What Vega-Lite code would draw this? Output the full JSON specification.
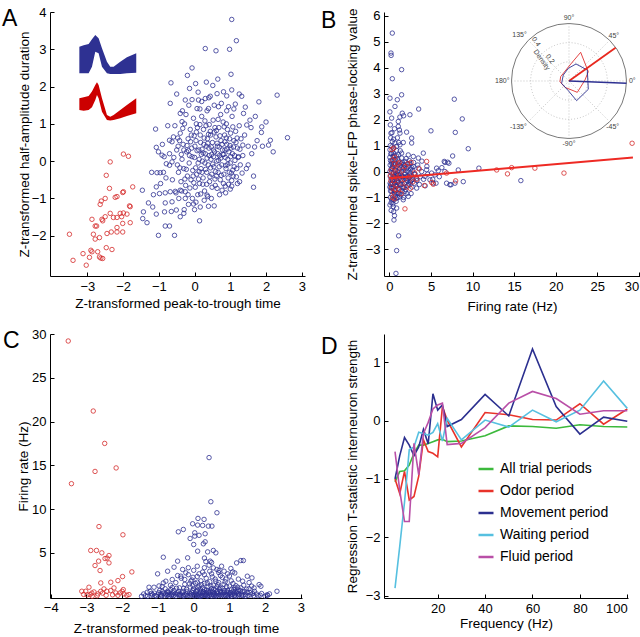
{
"$schema":"https://vega.github.io/schema/vega-lite/v6.json",
"padding":{"left":2,"top":6,"right":0,"bottom":0},
"config":{"font":"Liberation Sans","view":{"stroke":null},
"axis":{"grid":false,"domainColor":"#000","tickColor":"#000","tickSize":-4,"labelPadding":8,"labelFontSize":13,"labelColor":"#000","titleFontSize":13.5,"titleFontWeight":"normal","titleColor":"#000","labelOverlap":false,"labelFlush":false},
"title":{"fontSize":23,"fontWeight":"normal","anchor":"start","frame":"group","offset":-25,"color":"#000"}},
"resolve":{"scale":{"color":"independent"},"legend":{"color":"independent"}},
"datasets":{
"waveB":[{"x":-3.223,"y":3.071,"y2":2.356},{"x":-3.102,"y":3.107,"y2":2.356},{"x":-2.963,"y":3.143,"y2":2.356},{"x":-2.870,"y":3.268,"y2":2.535},{"x":-2.777,"y":3.384,"y2":2.937},{"x":-2.684,"y":3.295,"y2":2.892},{"x":-2.590,"y":3.026,"y2":2.535},{"x":-2.451,"y":2.669,"y2":2.356},{"x":-2.358,"y":2.535,"y2":2.338},{"x":-2.264,"y":2.535,"y2":2.338},{"x":-2.078,"y":2.669,"y2":2.338},{"x":-1.892,"y":2.785,"y2":2.356},{"x":-1.631,"y":2.892,"y2":2.374}],
"waveR":[{"x":-3.223,"y":1.686,"y2":1.373},{"x":-3.102,"y":1.713,"y2":1.355},{"x":-2.963,"y":1.748,"y2":1.373},{"x":-2.870,"y":1.865,"y2":1.445},{"x":-2.777,"y":2.043,"y2":1.641},{"x":-2.730,"y":2.115,"y2":1.775},{"x":-2.684,"y":2.043,"y2":1.686},{"x":-2.590,"y":1.686,"y2":1.328},{"x":-2.451,"y":1.239,"y2":1.105},{"x":-2.358,"y":1.194,"y2":1.087},{"x":-2.264,"y":1.239,"y2":1.105},{"x":-2.078,"y":1.373,"y2":1.150},{"x":-1.892,"y":1.507,"y2":1.212},{"x":-1.631,"y":1.686,"y2":1.284}],
"aRed":[{"x":-3.5,"y":-1.96},{"x":-3.4,"y":-2.66},{"x":-3.03,"y":-2.79},{"x":-3.12,"y":-2.48},{"x":-2.94,"y":-2.58},{"x":-2.9,"y":-2.39},{"x":-2.87,"y":-2.43},{"x":-2.71,"y":-2.43},{"x":-2.66,"y":-2.57},{"x":-2.62,"y":-2.6},{"x":-2.57,"y":-2.61},{"x":-2.47,"y":-2.32},{"x":-2.31,"y":-2.37},{"x":-2.83,"y":-1.96},{"x":-2.78,"y":-2.09},{"x":-2.66,"y":-2.05},{"x":-2.78,"y":-1.74},{"x":-2.74,"y":-1.74},{"x":-2.87,"y":-1.56},{"x":-2.59,"y":-1.56},{"x":-2.45,"y":-1.94},{"x":-2.33,"y":-1.9},{"x":-2.17,"y":-1.9},{"x":-2.01,"y":-1.9},{"x":-2.01,"y":-1.67},{"x":-1.8,"y":-1.65},{"x":-2.17,"y":-1.78},{"x":-2.27,"y":-1.51},{"x":-2.17,"y":-1.51},{"x":-2.04,"y":-1.49},{"x":-2.08,"y":-1.4},{"x":-1.99,"y":-1.39},{"x":-1.89,"y":-1.42},{"x":-2.36,"y":-1.4},{"x":-2.5,"y":-1.49},{"x":-2.57,"y":-1.6},{"x":-1.82,"y":-1.2},{"x":-1.99,"y":-0.82},{"x":-2.01,"y":-0.84},{"x":-2.22,"y":-0.97},{"x":-2.5,"y":-1.0},{"x":-2.61,"y":-1.07},{"x":-2.64,"y":-1.16},{"x":-2.38,"y":-0.73},{"x":-2.17,"y":-0.95},{"x":-1.73,"y":-0.69},{"x":-2.47,"y":-0.38},{"x":-2.36,"y":-0.02},{"x":-1.99,"y":0.19},{"x":-1.85,"y":0.13},{"x":-1.8,"y":-1.22}],
"aBlue":[{"x":1.04,"y":3.8},{"x":1.17,"y":3.23},{"x":0.3,"y":3.02},{"x":0.6,"y":2.96},{"x":0.98,"y":3.0},{"x":-0.07,"y":2.5},{"x":1.02,"y":2.33},{"x":-0.66,"y":2.1},{"x":0.03,"y":2.08},{"x":0.33,"y":2.12},{"x":0.51,"y":2.03},{"x":-0.14,"y":1.95},{"x":2.31,"y":1.77},{"x":1.8,"y":1.59},{"x":1.32,"y":1.74},{"x":1.04,"y":1.91},{"x":0.81,"y":1.86},{"x":-0.68,"y":1.55},{"x":-0.26,"y":1.64},{"x":-0.07,"y":1.65},{"x":0.11,"y":1.64},{"x":0.3,"y":1.68},{"x":0.44,"y":1.74},{"x":0.63,"y":1.81},{"x":-1.09,"y":0.86},{"x":-0.4,"y":1.28},{"x":-0.35,"y":1.06},{"x":0.07,"y":1.41},{"x":0.39,"y":1.41},{"x":0.67,"y":1.46},{"x":0.95,"y":1.46},{"x":1.14,"y":1.53},{"x":1.37,"y":1.28},{"x":1.46,"y":0.97},{"x":1.58,"y":0.9},{"x":1.88,"y":0.92},{"x":1.87,"y":0.77},{"x":2.12,"y":0.56},{"x":2.07,"y":0.43},{"x":2.6,"y":0.63},{"x":1.68,"y":0.38},{"x":1.65,"y":-0.4},{"x":1.26,"y":-0.55},{"x":1.04,"y":-0.67},{"x":0.86,"y":-0.67},{"x":1.35,"y":0.43},{"x":1.23,"y":0.12},{"x":1.07,"y":-0.24},{"x":-1.07,"y":0.37},{"x":-1.01,"y":0.25},{"x":-0.91,"y":0.16},{"x":-0.85,"y":0.12},{"x":-1.05,"y":-0.31},{"x":-0.96,"y":-0.31},{"x":-0.87,"y":-0.3},{"x":-0.7,"y":-0.11},{"x":-0.79,"y":-0.07},{"x":-0.63,"y":-0.02},{"x":-0.63,"y":0.52},{"x":-0.7,"y":0.56},{"x":-0.59,"y":0.65},{"x":-1.46,"y":-0.78},{"x":-1.07,"y":-0.69},{"x":-0.98,"y":-0.87},{"x":-0.82,"y":-0.85},{"x":-0.68,"y":-0.82},{"x":-0.54,"y":-0.81},{"x":-0.4,"y":-0.78},{"x":-0.26,"y":-0.82},{"x":-1.29,"y":-1.12},{"x":-1.17,"y":-1.23},{"x":-1.43,"y":-1.36},{"x":-1.45,"y":-1.54},{"x":-1.33,"y":-1.65},{"x":-1.07,"y":-1.42},{"x":-0.84,"y":-1.36},{"x":-0.82,"y":-1.12},{"x":-0.63,"y":-1.09},{"x":-0.51,"y":-1.31},{"x":-0.4,"y":-1.49},{"x":-0.29,"y":-1.3},{"x":-0.17,"y":-1.16},{"x":-0.03,"y":-1.15},{"x":0.16,"y":-1.23},{"x":0.39,"y":-1.21},{"x":0.14,"y":-1.6},{"x":-0.82,"y":-1.74},{"x":-0.7,"y":-1.74},{"x":-1.01,"y":-1.99},{"x":-0.56,"y":-1.99},{"x":0.35,"y":-0.91},{"x":0.63,"y":-0.73},
{"x":-0.5,"y":0.3},{"x":-0.45,"y":-0.3},{"x":-0.4,"y":0.75},{"x":-0.38,"y":-0.55},{"x":-0.35,"y":0.05},{"x":-0.32,"y":0.45},{"x":-0.3,"y":-0.2},{"x":-0.28,"y":1.0},{"x":-0.25,"y":-0.65},{"x":-0.22,"y":0.25},{"x":-0.2,"y":-0.4},{"x":-0.18,"y":0.6},{"x":-0.15,"y":-0.05},{"x":-0.12,"y":0.85},{"x":-0.1,"y":-0.5},{"x":-0.08,"y":0.35},{"x":-0.05,"y":-0.25},{"x":-0.03,"y":1.15},{"x":0.0,"y":0.1},{"x":0.02,"y":-0.7},{"x":0.04,"y":0.55},{"x":0.06,"y":-0.35},{"x":0.08,"y":0.9},{"x":0.1,"y":-0.05},{"x":0.12,"y":0.3},{"x":0.14,"y":-0.6},{"x":0.16,"y":0.7},{"x":0.18,"y":-0.2},{"x":0.2,"y":1.2},{"x":0.22,"y":0.0},{"x":0.24,"y":-0.45},{"x":0.26,"y":0.45},{"x":0.28,"y":-0.8},{"x":0.3,"y":0.2},{"x":0.32,"y":0.95},{"x":0.34,"y":-0.3},{"x":0.36,"y":0.6},{"x":0.38,"y":-0.1},{"x":0.4,"y":0.35},{"x":0.42,"y":-0.55},{"x":0.44,"y":0.8},{"x":0.46,"y":0.05},{"x":0.48,"y":-0.35},{"x":0.5,"y":0.5},{"x":0.52,"y":1.1},{"x":0.54,"y":-0.15},{"x":0.56,"y":0.25},{"x":0.58,"y":-0.65},{"x":0.6,"y":0.65},{"x":0.62,"y":0.0},{"x":0.64,"y":0.4},{"x":0.66,"y":-0.3},{"x":0.68,"y":0.9},{"x":0.7,"y":0.15},{"x":0.72,"y":-0.5},{"x":0.74,"y":0.55},{"x":0.76,"y":-0.1},{"x":0.78,"y":0.3},{"x":0.8,"y":1.05},{"x":0.82,"y":-0.35},{"x":0.84,"y":0.7},{"x":0.86,"y":0.1},{"x":0.88,"y":-0.2},{"x":0.9,"y":0.45},{"x":0.92,"y":0.85},{"x":0.94,"y":-0.45},{"x":0.96,"y":0.25},{"x":0.98,"y":0.6},{"x":1.0,"y":-0.05},{"x":1.02,"y":0.35},{"x":1.05,"y":1.2},{"x":1.08,"y":-0.4},{"x":1.1,"y":0.55},{"x":1.12,"y":0.15},{"x":1.15,"y":0.8},{"x":1.18,"y":-0.2},{"x":1.2,"y":0.35},{"x":1.25,"y":0.95},{"x":1.28,"y":-0.1},{"x":1.3,"y":0.6},{"x":-0.55,"y":0.95},{"x":-0.48,"y":-0.1},{"x":-0.42,"y":0.55},{"x":-0.36,"y":-0.8},{"x":-0.3,"y":0.3},{"x":-0.24,"y":1.25},{"x":-0.18,"y":-0.9},{"x":-0.14,"y":0.15},{"x":-0.09,"y":0.7},{"x":-0.04,"y":-0.4},{"x":0.01,"y":0.4},{"x":0.05,"y":1.0},{"x":0.09,"y":-0.9},{"x":0.13,"y":0.05},{"x":0.17,"y":0.5},{"x":0.21,"y":-0.3},{"x":0.25,"y":0.85},{"x":0.29,"y":-0.05},{"x":0.33,"y":0.4},{"x":0.37,"y":-0.95},{"x":0.41,"y":0.15},{"x":0.45,"y":0.7},{"x":0.49,"y":-0.7},{"x":0.53,"y":0.3},{"x":0.57,"y":0.9},{"x":0.61,"y":-0.4},{"x":0.65,"y":0.2},{"x":0.69,"y":-0.15},{"x":0.73,"y":1.25},{"x":0.77,"y":0.45},{"x":0.81,"y":-0.6},{"x":0.85,"y":0.3},{"x":0.89,"y":1.0},{"x":0.93,"y":0.05},{"x":0.97,"y":-0.3},{"x":1.01,"y":0.75},{"x":1.06,"y":0.2},{"x":1.11,"y":-0.15},{"x":1.16,"y":0.5},{"x":1.22,"y":0.1},{"x":1.35,"y":0.15},{"x":1.4,"y":0.7},{"x":1.45,"y":-0.2},{"x":1.5,"y":0.4},{"x":1.55,"y":1.1},{"x":1.6,"y":0.2},{"x":1.65,"y":-0.7},{"x":1.75,"y":0.55},{"x":1.42,"y":1.45},{"x":-0.62,"y":-0.5},{"x":-0.58,"y":0.1},{"x":-0.52,"y":-0.85},{"x":-0.46,"y":0.4},{"x":-0.44,"y":-1.0},{"x":-0.34,"y":1.35},{"x":-0.26,"y":-1.0},{"x":-0.16,"y":1.5},{"x":-0.06,"y":-1.0},{"x":0.04,"y":-1.1},{"x":0.15,"y":1.4},{"x":0.27,"y":-1.05},{"x":0.35,"y":1.35},{"x":0.47,"y":-1.0},{"x":0.55,"y":1.5},{"x":0.7,"y":-0.9},{"x":0.75,"y":1.55},{"x":0.87,"y":-0.85},{"x":0.9,"y":1.35},{"x":1.0,"y":-0.75},{"x":1.1,"y":1.4},{"x":1.2,"y":-0.6},{"x":-0.7,"y":0.2},{"x":-0.75,"y":0.95},{"x":-0.8,"y":-0.45},{"x":-0.9,"y":0.45},{"x":-1.2,"y":-0.3},{"x":-0.95,"y":-0.6},{"x":-1.15,"y":-0.9},{"x":-0.65,"y":-1.35},{"x":-0.3,"y":-1.4},{"x":0.0,"y":-1.3},{"x":0.55,"y":-1.2},{"x":1.5,"y":-0.1},{"x":1.9,"y":0.4},{"x":2.0,"y":1.05},{"x":1.7,"y":1.2},{"x":2.2,"y":0.25},{"x":-0.5,"y":1.8},{"x":0.1,"y":1.85},{"x":0.65,"y":2.2},{"x":-0.2,"y":2.3},{"x":0.4,"y":1.7},{"x":0.9,"y":1.75},{"x":1.25,"y":1.8},{"x":0.2,"y":1.6},
{"x":-0.47,"y":0.62},{"x":-0.41,"y":-0.18},{"x":-0.33,"y":0.88},{"x":-0.27,"y":-0.48},{"x":-0.21,"y":0.42},{"x":-0.13,"y":-0.72},{"x":-0.07,"y":0.12},{"x":-0.01,"y":0.68},{"x":0.03,"y":-0.18},{"x":0.07,"y":0.28},{"x":0.11,"y":-0.48},{"x":0.15,"y":0.98},{"x":0.19,"y":0.18},{"x":0.23,"y":-0.62},{"x":0.27,"y":0.62},{"x":0.31,"y":-0.22},{"x":0.35,"y":0.08},{"x":0.39,"y":0.72},{"x":0.43,"y":-0.42},{"x":0.47,"y":0.38},{"x":0.51,"y":-0.08},{"x":0.55,"y":0.78},{"x":0.59,"y":-0.28},{"x":0.63,"y":0.48},{"x":0.67,"y":0.02},{"x":0.71,"y":0.68},{"x":0.75,"y":-0.38},{"x":0.79,"y":0.18},{"x":0.83,"y":0.92},{"x":0.87,"y":-0.12},{"x":0.91,"y":0.32},{"x":0.95,"y":-0.62},{"x":0.99,"y":0.42},{"x":1.03,"y":-0.32},{"x":1.07,"y":0.92},{"x":1.13,"y":0.02},{"x":1.19,"y":0.62},{"x":1.27,"y":0.32},{"x":1.33,"y":-0.32},{"x":-0.37,"y":0.18},{"x":-0.23,"y":-0.22},{"x":-0.11,"y":0.52},{"x":0.13,"y":-0.28},{"x":0.21,"y":0.32},{"x":0.29,"y":1.08},{"x":0.37,"y":0.48},{"x":0.45,"y":-0.18},{"x":0.53,"y":0.12},{"x":0.61,"y":0.82},{"x":0.69,"y":0.38},{"x":0.77,"y":-0.78},{"x":0.85,"y":0.52},{"x":0.93,"y":-0.08},{"x":1.01,"y":0.12},{"x":1.09,"y":0.38},{"x":1.17,"y":-0.42},{"x":0.05,"y":0.78},{"x":0.17,"y":-0.88},{"x":0.41,"y":0.98},{"x":0.57,"y":-0.48},{"x":0.73,"y":0.08},{"x":0.89,"y":0.62},{"x":1.04,"y":-0.52},{"x":-0.17,"y":0.28},{"x":-0.02,"y":-0.58},{"x":0.34,"y":-0.62},{"x":0.66,"y":1.12},{"x":0.48,"y":0.18},{"x":0.82,"y":0.18},{"x":0.24,"y":0.22}],
"bBlue":[{"x":0.34,"y":5.34},{"x":0.18,"y":4.57},{"x":0.2,"y":4.48},{"x":0.34,"y":3.58},{"x":1.46,"y":3.93},{"x":0.06,"y":2.83},{"x":0.94,"y":2.77},{"x":1.46,"y":2.96},{"x":0.26,"y":2.06},{"x":3.51,"y":2.41},{"x":7.8,"y":2.79},{"x":8.76,"y":2.03},{"x":7.92,"y":1.51},{"x":4.99,"y":1.57},{"x":9.48,"y":0.88},{"x":10.76,"y":0.13},{"x":15.81,"y":-0.35},{"x":7.6,"y":0.6},{"x":6.68,"y":0.35},{"x":7.0,"y":0.36},{"x":5.67,"y":0.13},{"x":4.07,"y":0.71},{"x":8.28,"y":0.06},{"x":8.88,"y":-0.39},{"x":7.4,"y":-0.51},{"x":6.87,"y":-0.45},{"x":0.6,"y":-1.7},{"x":0.54,"y":-1.87},{"x":1.1,"y":-2.48},{"x":0.86,"y":-3.05},{"x":0.78,"y":-3.93},
{"x":0.66,"y":2.51},{"x":1.54,"y":2.25},{"x":2.46,"y":2.19},{"x":1.06,"y":1.93},{"x":1.26,"y":1.48},{"x":2.06,"y":1.52},{"x":0.18,"y":1.48},{"x":1.06,"y":1.74},{"x":2.67,"y":1.29},{"x":2.67,"y":1.1},{"x":0.34,"y":1.16},{"x":0.66,"y":1.1},{"x":0.86,"y":0.97},{"x":1.26,"y":1.03},{"x":1.66,"y":1.12},{"x":0.06,"y":0.84},{"x":0.46,"y":0.71},{"x":1.46,"y":0.71},{"x":2.26,"y":0.64},{"x":3.47,"y":0.52},{"x":2.87,"y":0.58},{"x":6.59,"y":0.39},{"x":7.15,"y":0.32},{"x":5.87,"y":0.03},{"x":4.47,"y":0.07},{"x":0.26,"y":0.32},{"x":1.06,"y":0.26},{"x":1.86,"y":0.39},{"x":2.46,"y":0.32},{"x":2.87,"y":0.19},{"x":3.47,"y":0.13},{"x":3.87,"y":0.0},{"x":5.07,"y":-0.06},{"x":5.47,"y":-0.13},{"x":6.67,"y":0.0},{"x":7.27,"y":-0.51},{"x":7.88,"y":-0.45},{"x":0.06,"y":0.0},{"x":0.66,"y":-0.13},{"x":1.46,"y":-0.19},{"x":2.06,"y":-0.26},{"x":2.67,"y":-0.32},{"x":3.27,"y":-0.26},{"x":4.27,"y":-0.19},{"x":4.87,"y":-0.32},{"x":5.27,"y":-0.45},{"x":0.26,"y":-0.45},{"x":0.86,"y":-0.58},{"x":1.66,"y":-0.64},{"x":2.46,"y":-0.51},{"x":3.27,"y":-0.64},{"x":0.26,"y":-0.77},{"x":1.06,"y":-0.84},{"x":1.86,"y":-0.77},{"x":0.26,"y":-1.09},{"x":0.86,"y":-1.03},{"x":1.66,"y":-1.09},{"x":2.26,"y":-0.96},{"x":0.06,"y":-1.29},{"x":0.46,"y":-1.35},{"x":0.86,"y":-1.41},
{"x":0.1,"y":-0.2},{"x":0.15,"y":-0.5},{"x":0.2,"y":0.1},{"x":0.3,"y":-0.9},{"x":0.35,"y":-0.35},{"x":0.4,"y":0.45},{"x":0.45,"y":-0.6},{"x":0.5,"y":-0.05},{"x":0.55,"y":-1.1},{"x":0.6,"y":0.25},{"x":0.65,"y":-0.45},{"x":0.7,"y":-0.75},{"x":0.75,"y":0.05},{"x":0.8,"y":-0.3},{"x":0.85,"y":0.6},{"x":0.9,"y":-0.55},{"x":0.95,"y":-0.15},{"x":1.0,"y":-1.0},{"x":1.05,"y":0.4},{"x":1.1,"y":-0.4},{"x":1.15,"y":-0.7},{"x":1.2,"y":0.1},{"x":1.25,"y":-0.25},{"x":1.3,"y":0.8},{"x":1.35,"y":-0.5},{"x":1.4,"y":-0.9},{"x":1.45,"y":0.0},{"x":1.5,"y":-0.35},{"x":1.55,"y":0.35},{"x":1.6,"y":-0.6},{"x":1.7,"y":-0.2},{"x":1.75,"y":0.15},{"x":1.8,"y":-0.45},{"x":1.9,"y":-0.1},{"x":1.95,"y":-0.7},{"x":2.0,"y":0.5},{"x":2.1,"y":-0.35},{"x":2.15,"y":0.0},{"x":2.2,"y":-0.55},{"x":2.3,"y":0.2},{"x":2.35,"y":-0.25},{"x":2.5,"y":-0.4},{"x":2.55,"y":0.1},{"x":2.6,"y":-0.15},{"x":2.7,"y":-0.6},{"x":2.8,"y":-0.3},{"x":2.9,"y":0.35},{"x":3.0,"y":-0.45},{"x":3.1,"y":-0.1},{"x":3.3,"y":-0.35},{"x":3.4,"y":0.25},{"x":3.6,"y":-0.5},{"x":3.7,"y":-0.2},{"x":3.9,"y":0.4},{"x":4.1,"y":-0.3},{"x":4.3,"y":-0.55},{"x":4.5,"y":0.2},{"x":4.6,"y":-0.1},{"x":5.2,"y":-0.3},{"x":5.6,"y":-0.45},{"x":6.0,"y":-0.2},{"x":6.3,"y":0.15},{"x":0.05,"y":0.55},{"x":0.1,"y":1.0},{"x":0.2,"y":-1.2},{"x":0.25,"y":0.7},{"x":0.3,"y":-0.65},{"x":0.35,"y":0.2},{"x":0.4,"y":-1.25},{"x":0.5,"y":0.9},{"x":0.55,"y":-0.3},{"x":0.6,"y":-0.85},{"x":0.7,"y":0.45},{"x":0.8,"y":-1.15},{"x":0.85,"y":-0.1},{"x":0.9,"y":0.2},{"x":1.0,"y":-0.65},{"x":1.1,"y":0.65},{"x":1.2,"y":-0.85},{"x":1.3,"y":-0.1},{"x":1.4,"y":0.3},{"x":1.5,"y":-0.75},{"x":1.6,"y":0.1},{"x":1.7,"y":-1.0},{"x":1.8,"y":0.25},{"x":2.0,"y":-0.2},{"x":2.1,"y":-0.85},{"x":2.2,"y":0.3},{"x":2.4,"y":-0.1},{"x":2.6,"y":-0.85},{"x":2.8,"y":0.05},{"x":3.0,"y":-0.1},{"x":0.12,"y":-0.75},{"x":0.22,"y":-0.05},{"x":0.28,"y":0.4},{"x":0.45,"y":0.3},{"x":0.62,"y":-0.2},{"x":0.72,"y":-0.55},{"x":0.92,"y":-0.35},{"x":1.02,"y":0.0},{"x":0.15,"y":1.3},{"x":0.3,"y":1.5},{"x":0.5,"y":1.25},{"x":0.1,"y":1.8},{"x":0.05,"y":2.3},{"x":0.6,"y":1.65},{"x":0.95,"y":1.3},{"x":1.2,"y":1.6},{"x":0.2,"y":-1.5},{"x":0.5,"y":-1.55},{"x":0.1,"y":-1.0},{"x":0.05,"y":-0.6},{"x":0.08,"y":0.25},{"x":1.25,"y":2.1},{"x":1.7,"y":2.15},
{"x":0.12,"y":0.42},{"x":0.18,"y":-0.62},{"x":0.24,"y":-0.28},{"x":0.32,"y":0.12},{"x":0.38,"y":-0.48},{"x":0.44,"y":0.58},{"x":0.52,"y":-0.18},{"x":0.58,"y":-0.72},{"x":0.64,"y":0.05},{"x":0.72,"y":0.3},{"x":0.78,"y":-0.22},{"x":0.88,"y":-0.82},{"x":0.98,"y":0.48},{"x":1.08,"y":-0.12},{"x":1.18,"y":-0.48},{"x":1.28,"y":0.22},{"x":1.38,"y":-0.3},{"x":1.48,"y":0.52},{"x":1.58,"y":-0.2},{"x":1.68,"y":0.28},{"x":1.78,"y":-0.62},{"x":1.88,"y":0.05},{"x":1.98,"y":-0.42},{"x":2.08,"y":0.12},{"x":2.18,"y":-0.18},{"x":2.28,"y":-0.48},{"x":2.38,"y":0.42},{"x":2.48,"y":-0.05},{"x":2.58,"y":-0.35},{"x":2.68,"y":0.15},{"x":0.16,"y":0.68},{"x":0.42,"y":-1.08},{"x":0.68,"y":-0.95},{"x":0.96,"y":-0.42},{"x":1.22,"y":-0.98},{"x":0.28,"y":0.95},{"x":0.56,"y":0.62},{"x":0.84,"y":0.82},{"x":1.12,"y":1.12},{"x":0.08,"y":-0.45}],
"bRed":[{"x":29.2,"y":1.09},{"x":21.0,"y":-0.06},{"x":17.5,"y":0.13},{"x":14.7,"y":0.15},{"x":14.2,"y":-0.09},{"x":12.9,"y":0.06},{"x":4.19,"y":-0.54},{"x":1.86,"y":-1.44},{"x":5.07,"y":-0.42},{"x":5.27,"y":-0.49},{"x":6.87,"y":-0.06},{"x":7.96,"y":-0.36},{"x":4.47,"y":0.39},{"x":0.3,"y":0.85},{"x":0.5,"y":0.9},{"x":0.4,"y":0.45},{"x":0.6,"y":0.3},{"x":0.2,"y":0.05},{"x":0.35,"y":-0.2},{"x":0.5,"y":-0.35},{"x":0.7,"y":-0.1},{"x":0.8,"y":-0.5},{"x":0.9,"y":0.1},{"x":1.0,"y":-0.25},{"x":1.1,"y":-0.7},{"x":0.25,"y":-0.6},{"x":0.45,"y":-0.8},{"x":0.6,"y":-1.05},{"x":1.2,"y":0.35},{"x":1.3,"y":-0.15},{"x":1.5,"y":-0.45},{"x":1.6,"y":0.05},{"x":1.8,"y":-0.3},{"x":2.0,"y":-0.6},{"x":2.2,"y":0.3},{"x":2.4,"y":-0.2},{"x":2.6,"y":0.35},{"x":2.8,"y":-0.4},{"x":3.0,"y":-0.05},{"x":3.3,"y":-0.3},{"x":0.15,"y":-0.35},{"x":0.55,"y":0.15},{"x":0.75,"y":-0.7},{"x":1.4,"y":-0.85},{"x":0.35,"y":-1.0},{"x":0.1,"y":-0.15},{"x":0.65,"y":0.55},{"x":1.05,"y":0.3},{"x":1.9,"y":0.2},{"x":2.5,"y":-0.65},{"x":3.6,"y":0.1}],
"bFit":[{"x":0.0,"y":-0.26},{"x":29.3,"y":0.54}],
"origin":[{"u":0,"v":0}],
"spokes":[{"u":-1,"v":0,"u2":1,"v2":0},{"u":-0.707,"v":-0.707,"u2":0.707,"v2":0.707},{"u":0,"v":-1,"u2":0,"v2":1},{"u":-0.707,"v":0.707,"u2":0.707,"v2":-0.707}],
"polyR":[{"i":0,"u":0.203,"v":0.499},{"i":1,"u":0.336,"v":0.162},{"i":2,"u":0.278,"v":0.017},{"i":3,"u":0.145,"v":-0.197},{"i":4,"u":-0.07,"v":-0.11},{"i":5,"u":-0.157,"v":-0.012},{"i":6,"u":-0.145,"v":0.075},{"i":7,"u":0.017,"v":0.278},{"i":8,"u":0.203,"v":0.499}],
"polyB":[{"i":0,"u":0.122,"v":0.296},{"i":1,"u":0.319,"v":0.191},{"i":2,"u":0.336,"v":-0.145},{"i":3,"u":0.133,"v":-0.342},{"i":4,"u":-0.012,"v":-0.168},{"i":5,"u":-0.128,"v":-0.041},{"i":6,"u":-0.099,"v":0.104},{"i":7,"u":-0.012,"v":0.22},{"i":8,"u":0.122,"v":0.296}],
"vecR":[{"u":0,"v":0,"u2":0.81,"v2":0.58}],
"vecB":[{"u":0,"v":0,"u2":1.0,"v2":-0.04}],
"angles":[{"u":1.1,"v":0,"t":"0°"},{"u":0.78,"v":0.79,"t":"45°"},{"u":0,"v":1.09,"t":"90°"},{"u":-0.86,"v":0.8,"t":"135°"},{"u":-1.16,"v":0,"t":"180°"},{"u":-0.88,"v":-0.8,"t":"-135°"},{"u":0,"v":-1.09,"t":"-90°"},{"u":0.76,"v":-0.8,"t":"-45°"}],
"radial":[{"u":-0.33,"v":0.38,"t":"0.2"},{"u":-0.574,"v":0.683,"t":"0.4"},{"u":-0.475,"v":0.365,"t":"Density"}],
"cRed":[{"x":-3.51,"y":29.2},{"x":-2.81,"y":21.2},{"x":-2.49,"y":17.5},{"x":-2.17,"y":14.7},{"x":-2.76,"y":14.3},{"x":-3.42,"y":12.9},{"x":-2.65,"y":8.0},{"x":-1.98,"y":7.06},{"x":-2.88,"y":5.27},{"x":-2.72,"y":5.27},{"x":-2.57,"y":5.0},{"x":-2.37,"y":4.69},{"x":-2.48,"y":4.35},{"x":-2.42,"y":4.4},{"x":-2.37,"y":3.85},{"x":-2.66,"y":4.05},{"x":-2.76,"y":3.55},{"x":-2.62,"y":2.98},{"x":-1.73,"y":2.82},{"x":-1.99,"y":2.29},{"x":-2.12,"y":1.83},{"x":-2.32,"y":1.64},{"x":-2.6,"y":1.56},{"x":-2.23,"y":0.99},{"x":-2.51,"y":0.88},{"x":-1.97,"y":0.8},{"x":-2.93,"y":1.07},{"x":-3.13,"y":0.61},{"x":-3.02,"y":0.61},{"x":-2.9,"y":0.23},{"x":-2.79,"y":0.53},{"x":-2.68,"y":0.31},{"x":-2.55,"y":0.4},{"x":-2.43,"y":0.61},{"x":-2.32,"y":0.69},{"x":-2.18,"y":0.42},{"x":-2.06,"y":0.42},{"x":-1.95,"y":0.31},{"x":-1.81,"y":0.23},{"x":-2.84,"y":0.05},{"x":-2.7,"y":0.1},{"x":-2.98,"y":0.2},{"x":-3.08,"y":0.25},{"x":-2.27,"y":0.2},{"x":-2.0,"y":0.6},{"x":-1.87,"y":0.15},{"x":-2.12,"y":0.15},{"x":-2.45,"y":0.15},{"x":-2.85,"y":0.4},{"x":-2.6,"y":0.6}],
"cBlue":[{"x":0.43,"y":15.88},{"x":0.48,"y":10.84},{"x":0.65,"y":9.58},{"x":0.12,"y":8.93},{"x":0.29,"y":8.82},{"x":-0.03,"y":8.32},{"x":0.11,"y":8.17},{"x":0.25,"y":8.13},{"x":0.41,"y":8.05},{"x":0.51,"y":8.05},{"x":-0.43,"y":7.4},{"x":-0.29,"y":7.67},{"x":0.03,"y":7.29},{"x":0.32,"y":7.18},{"x":-0.1,"y":6.64},{"x":0.03,"y":6.91},{"x":0.15,"y":7.0},{"x":0.0,"y":5.95},{"x":0.27,"y":6.03},{"x":0.11,"y":5.19},{"x":0.39,"y":5.11},{"x":0.55,"y":5.27},{"x":0.62,"y":5.0},{"x":0.32,"y":6.26},{"x":-0.85,"y":4.5},{"x":-0.17,"y":4.43},{"x":-0.45,"y":4.05},{"x":0.3,"y":4.4},{"x":0.46,"y":4.05},{"x":0.5,"y":3.9},{"x":0.78,"y":3.47},{"x":1.2,"y":3.85},{"x":1.32,"y":4.12},{"x":1.39,"y":4.12},{"x":-0.73,"y":2.9},{"x":-0.55,"y":3.36},{"x":-0.31,"y":3.1},{"x":0.1,"y":3.47},{"x":0.34,"y":4.0},{"x":1.04,"y":3.21},{"x":1.09,"y":2.82},{"x":0.43,"y":3.59},{"x":0.55,"y":3.28},{"x":0.71,"y":2.98},{"x":0.85,"y":2.9},{"x":1.5,"y":2.33},{"x":1.63,"y":2.14},{"x":1.88,"y":1.18},{"x":1.55,"y":1.6},{"x":1.69,"y":0.99},{"x":1.83,"y":1.37},{"x":2.33,"y":0.61},{"x":2.12,"y":0.31},{"x":2.07,"y":0.15},{"x":1.23,"y":1.07},{"x":1.37,"y":1.76},{"x":-1.01,"y":2.6},{"x":-1.25,"y":1.07},{"x":-1.11,"y":1.07},{"x":-1.46,"y":0.04},{"x":-1.29,"y":0.04},{"x":-0.97,"y":1.22},{"x":-0.78,"y":1.76},{"x":-0.85,"y":1.56},{"x":-0.6,"y":1.95},{"x":-0.36,"y":2.33},{"x":-0.22,"y":2.71},{"x":-0.08,"y":1.76},{"x":-0.73,"y":0.61},{"x":-0.64,"y":0.8},
{"x":-1.4,"y":0.3},{"x":-1.3,"y":0.5},{"x":-1.2,"y":0.1},{"x":-1.1,"y":0.4},{"x":-1.0,"y":0.2},{"x":-0.95,"y":0.7},{"x":-0.9,"y":0.05},{"x":-0.85,"y":0.35},{"x":-0.8,"y":0.9},{"x":-0.75,"y":0.15},{"x":-0.7,"y":0.5},{"x":-0.65,"y":1.3},{"x":-0.6,"y":0.25},{"x":-0.55,"y":0.7},{"x":-0.5,"y":0.05},{"x":-0.5,"y":1.6},{"x":-0.45,"y":0.4},{"x":-0.4,"y":1.0},{"x":-0.4,"y":0.15},{"x":-0.35,"y":2.1},{"x":-0.3,"y":0.6},{"x":-0.3,"y":0.1},{"x":-0.25,"y":1.4},{"x":-0.2,"y":0.3},{"x":-0.2,"y":0.85},{"x":-0.15,"y":2.5},{"x":-0.1,"y":0.1},{"x":-0.1,"y":1.1},{"x":-0.05,"y":0.5},{"x":-0.05,"y":1.9},{"x":0.0,"y":0.2},{"x":0.0,"y":0.9},{"x":0.0,"y":3.0},{"x":0.05,"y":0.4},{"x":0.05,"y":1.5},{"x":0.1,"y":0.1},{"x":0.1,"y":0.7},{"x":0.1,"y":2.3},{"x":0.15,"y":0.3},{"x":0.15,"y":1.2},{"x":0.2,"y":0.05},{"x":0.2,"y":0.6},{"x":0.2,"y":1.8},{"x":0.25,"y":0.35},{"x":0.25,"y":1.0},{"x":0.25,"y":2.8},{"x":0.3,"y":0.15},{"x":0.3,"y":0.8},{"x":0.3,"y":1.5},{"x":0.35,"y":0.45},{"x":0.35,"y":2.1},{"x":0.4,"y":0.1},{"x":0.4,"y":1.1},{"x":0.4,"y":0.65},{"x":0.45,"y":0.3},{"x":0.45,"y":1.7},{"x":0.5,"y":0.05},{"x":0.5,"y":0.9},{"x":0.5,"y":2.6},{"x":0.55,"y":0.5},{"x":0.55,"y":1.3},{"x":0.6,"y":0.2},{"x":0.6,"y":0.75},{"x":0.6,"y":2.0},{"x":0.65,"y":0.4},{"x":0.65,"y":1.1},{"x":0.7,"y":0.1},{"x":0.7,"y":1.6},{"x":0.75,"y":0.6},{"x":0.75,"y":2.4},{"x":0.8,"y":0.25},{"x":0.8,"y":0.95},{"x":0.85,"y":0.5},{"x":0.85,"y":1.4},{"x":0.9,"y":0.1},{"x":0.9,"y":2.0},{"x":0.95,"y":0.7},{"x":1.0,"y":0.3},{"x":1.0,"y":1.2},{"x":1.05,"y":0.05},{"x":1.05,"y":1.8},{"x":1.1,"y":0.55},{"x":1.15,"y":0.2},{"x":1.15,"y":1.0},{"x":1.2,"y":0.4},{"x":1.25,"y":0.1},{"x":1.3,"y":0.7},{"x":1.35,"y":0.3},{"x":1.4,"y":1.3},{"x":1.45,"y":0.05},{"x":1.5,"y":0.5},{"x":1.6,"y":0.2},{"x":1.7,"y":0.6},{"x":1.8,"y":0.1},{"x":1.9,"y":0.35},{"x":2.0,"y":0.05},{"x":2.05,"y":0.2},{"x":-1.05,"y":0.05},{"x":-0.98,"y":0.45},{"x":-0.88,"y":1.15},{"x":-0.78,"y":0.3},{"x":-0.68,"y":0.05},{"x":-0.58,"y":0.45},{"x":-0.48,"y":0.95},{"x":-0.38,"y":0.3},{"x":-0.28,"y":0.05},{"x":-0.18,"y":0.55},{"x":-0.08,"y":0.3},{"x":0.02,"y":0.05},{"x":0.08,"y":0.25},{"x":0.12,"y":1.0},{"x":0.18,"y":0.45},{"x":0.22,"y":0.15},{"x":0.28,"y":0.55},{"x":0.32,"y":0.25},{"x":0.38,"y":0.05},{"x":0.42,"y":0.45},{"x":0.48,"y":0.2},{"x":0.52,"y":0.6},{"x":0.58,"y":0.35},{"x":0.62,"y":0.05},{"x":0.68,"y":0.3},{"x":0.72,"y":0.85},{"x":0.78,"y":0.1},{"x":0.82,"y":0.4},{"x":0.88,"y":0.2},{"x":0.92,"y":0.55},{"x":0.98,"y":0.05},{"x":1.02,"y":0.45},{"x":1.08,"y":0.25},{"x":1.12,"y":0.8},{"x":1.18,"y":0.05},{"x":1.22,"y":0.55},{"x":1.28,"y":0.25},{"x":1.32,"y":1.0},{"x":1.38,"y":0.1},{"x":1.42,"y":0.6},{"x":1.55,"y":0.9},{"x":1.65,"y":0.35},{"x":-0.62,"y":0.15},{"x":-0.42,"y":0.6},{"x":-0.22,"y":0.15},{"x":-0.02,"y":0.7},{"x":0.16,"y":0.05},{"x":0.36,"y":0.75},{"x":0.56,"y":0.1},{"x":0.76,"y":0.45},{"x":0.96,"y":0.3},{"x":1.16,"y":0.6},{"x":-0.15,"y":3.3},{"x":0.45,"y":2.9},{"x":0.95,"y":2.6},{"x":1.25,"y":2.0},{"x":-0.45,"y":2.4},{"x":0.15,"y":2.6},{"x":0.65,"y":3.1},{"x":1.1,"y":1.5},{"x":0.3,"y":3.3},{"x":-0.9,"y":0.15},{"x":-0.72,"y":0.2},{"x":-1.35,"y":0.1},{"x":-1.15,"y":0.2},
{"x":-1.18,"y":0.35},{"x":-1.08,"y":0.12},{"x":-0.92,"y":0.28},{"x":-0.82,"y":0.08},{"x":-0.74,"y":0.42},{"x":-0.66,"y":0.22},{"x":-0.56,"y":0.12},{"x":-0.52,"y":0.32},{"x":-0.44,"y":0.22},{"x":-0.36,"y":0.12},{"x":-0.32,"y":0.42},{"x":-0.26,"y":0.25},{"x":-0.16,"y":0.12},{"x":-0.12,"y":0.38},{"x":-0.06,"y":0.18},{"x":0.04,"y":0.12},{"x":0.06,"y":0.62},{"x":0.14,"y":0.18},{"x":0.18,"y":0.85},{"x":0.24,"y":0.1},{"x":0.26,"y":0.5},{"x":0.34,"y":0.12},{"x":0.36,"y":0.3},{"x":0.44,"y":0.15},{"x":0.46,"y":0.55},{"x":0.54,"y":0.25},{"x":0.56,"y":0.85},{"x":0.64,"y":0.12},{"x":0.66,"y":0.6},{"x":0.74,"y":0.2},{"x":0.74,"y":1.0},{"x":0.84,"y":0.1},{"x":0.86,"y":0.7},{"x":0.94,"y":0.15},{"x":0.96,"y":0.5},{"x":1.04,"y":0.2},{"x":1.06,"y":0.85},{"x":1.14,"y":0.1},{"x":1.14,"y":0.4},{"x":1.24,"y":0.3},{"x":1.26,"y":0.75},{"x":1.34,"y":0.15},{"x":1.36,"y":0.55},{"x":1.44,"y":0.25},{"x":1.52,"y":0.12},{"x":1.58,"y":0.45},{"x":1.68,"y":0.1},{"x":1.76,"y":0.3},{"x":1.86,"y":0.15},{"x":-0.02,"y":1.25},{"x":0.22,"y":1.35},{"x":0.48,"y":1.2},{"x":0.68,"y":1.35},{"x":0.92,"y":1.15},{"x":1.18,"y":1.25},{"x":-0.28,"y":0.95},{"x":-0.6,"y":1.05},{"x":0.38,"y":1.55},{"x":0.62,"y":1.75},{"x":0.88,"y":1.7},{"x":0.1,"y":1.65},{"x":-0.12,"y":1.45},{"x":1.48,"y":0.85},{"x":1.62,"y":1.2},{"x":-0.88,"y":0.6},{"x":-1.22,"y":0.6},{"x":0.8,"y":2.2},{"x":0.52,"y":2.25},{"x":0.3,"y":2.5},{"x":1.0,"y":2.35},{"x":-0.02,"y":2.2},{"x":0.7,"y":2.75},{"x":1.15,"y":2.7},{"x":-0.25,"y":1.95}],
"d":[
{"f":2,"v":-1.05,"s":"All trial periods"},{"f":4,"v":-0.87,"s":"All trial periods"},{"f":6,"v":-0.86,"s":"All trial periods"},{"f":8,"v":-0.76,"s":"All trial periods"},{"f":10,"v":-0.56,"s":"All trial periods"},{"f":12,"v":-0.42,"s":"All trial periods"},{"f":14,"v":-0.42,"s":"All trial periods"},{"f":16,"v":-0.39,"s":"All trial periods"},{"f":18,"v":-0.36,"s":"All trial periods"},{"f":20,"v":-0.33,"s":"All trial periods"},{"f":22,"v":-0.32,"s":"All trial periods"},{"f":24,"v":-0.36,"s":"All trial periods"},{"f":30,"v":-0.35,"s":"All trial periods"},{"f":40,"v":-0.26,"s":"All trial periods"},{"f":50,"v":-0.09,"s":"All trial periods"},{"f":60,"v":-0.1,"s":"All trial periods"},{"f":70,"v":-0.13,"s":"All trial periods"},{"f":80,"v":-0.07,"s":"All trial periods"},{"f":90,"v":-0.1,"s":"All trial periods"},{"f":100,"v":-0.11,"s":"All trial periods"},
{"f":2,"v":-1.0,"s":"Odor period"},{"f":4,"v":-1.25,"s":"Odor period"},{"f":6,"v":-0.87,"s":"Odor period"},{"f":8,"v":-1.36,"s":"Odor period"},{"f":10,"v":-1.3,"s":"Odor period"},{"f":12,"v":-0.95,"s":"Odor period"},{"f":14,"v":-0.33,"s":"Odor period"},{"f":16,"v":-0.53,"s":"Odor period"},{"f":18,"v":-0.56,"s":"Odor period"},{"f":20,"v":-0.62,"s":"Odor period"},{"f":22,"v":0.24,"s":"Odor period"},{"f":24,"v":0.01,"s":"Odor period"},{"f":30,"v":-0.45,"s":"Odor period"},{"f":40,"v":0.14,"s":"Odor period"},{"f":50,"v":0.1,"s":"Odor period"},{"f":60,"v":0.02,"s":"Odor period"},{"f":70,"v":0.01,"s":"Odor period"},{"f":80,"v":0.29,"s":"Odor period"},{"f":90,"v":-0.06,"s":"Odor period"},{"f":100,"v":0.2,"s":"Odor period"},
{"f":2,"v":-1.0,"s":"Movement period"},{"f":4,"v":-0.6,"s":"Movement period"},{"f":6,"v":-0.29,"s":"Movement period"},{"f":8,"v":-0.42,"s":"Movement period"},{"f":10,"v":-0.6,"s":"Movement period"},{"f":12,"v":-0.45,"s":"Movement period"},{"f":14,"v":-0.15,"s":"Movement period"},{"f":16,"v":-0.4,"s":"Movement period"},{"f":18,"v":0.46,"s":"Movement period"},{"f":20,"v":0.18,"s":"Movement period"},{"f":22,"v":0.27,"s":"Movement period"},{"f":24,"v":-0.1,"s":"Movement period"},{"f":30,"v":0.02,"s":"Movement period"},{"f":40,"v":0.45,"s":"Movement period"},{"f":50,"v":0.08,"s":"Movement period"},{"f":60,"v":1.23,"s":"Movement period"},{"f":70,"v":0.24,"s":"Movement period"},{"f":80,"v":-0.23,"s":"Movement period"},{"f":90,"v":0.06,"s":"Movement period"},{"f":100,"v":-0.01,"s":"Movement period"},
{"f":2,"v":-2.87,"s":"Waiting period"},{"f":4,"v":-2.15,"s":"Waiting period"},{"f":6,"v":-1.4,"s":"Waiting period"},{"f":8,"v":-0.5,"s":"Waiting period"},{"f":10,"v":-0.45,"s":"Waiting period"},{"f":12,"v":-0.2,"s":"Waiting period"},{"f":14,"v":-0.22,"s":"Waiting period"},{"f":16,"v":-0.25,"s":"Waiting period"},{"f":18,"v":-0.2,"s":"Waiting period"},{"f":20,"v":-0.05,"s":"Waiting period"},{"f":22,"v":-0.35,"s":"Waiting period"},{"f":24,"v":0.04,"s":"Waiting period"},{"f":30,"v":-0.33,"s":"Waiting period"},{"f":40,"v":0.01,"s":"Waiting period"},{"f":50,"v":-0.11,"s":"Waiting period"},{"f":60,"v":0.18,"s":"Waiting period"},{"f":70,"v":-0.02,"s":"Waiting period"},{"f":80,"v":0.18,"s":"Waiting period"},{"f":90,"v":0.68,"s":"Waiting period"},{"f":100,"v":0.21,"s":"Waiting period"},
{"f":2,"v":-0.53,"s":"Fluid period"},{"f":4,"v":-1.2,"s":"Fluid period"},{"f":6,"v":-1.73,"s":"Fluid period"},{"f":8,"v":-1.73,"s":"Fluid period"},{"f":10,"v":-0.39,"s":"Fluid period"},{"f":12,"v":-0.93,"s":"Fluid period"},{"f":14,"v":-0.22,"s":"Fluid period"},{"f":16,"v":-0.03,"s":"Fluid period"},{"f":18,"v":0.2,"s":"Fluid period"},{"f":20,"v":0.27,"s":"Fluid period"},{"f":22,"v":0.3,"s":"Fluid period"},{"f":24,"v":-0.41,"s":"Fluid period"},{"f":30,"v":-0.39,"s":"Fluid period"},{"f":40,"v":-0.12,"s":"Fluid period"},{"f":50,"v":0.3,"s":"Fluid period"},{"f":60,"v":0.5,"s":"Fluid period"},{"f":70,"v":0.38,"s":"Fluid period"},{"f":80,"v":0.11,"s":"Fluid period"},{"f":90,"v":0.17,"s":"Fluid period"},{"f":100,"v":0.17,"s":"Fluid period"}]
},
"columns":2,
"bounds":"flush",
"spacing":{"row":58,"column":79},
"concat":[
{"width":255,"height":264,
 "title":{"text":"A","dx":-48},
 "encoding":{
  "x":{"field":"x","type":"quantitative","scale":{"domain":[-4.044,3.09],"nice":false,"zero":false},"axis":{"values":[-3,-2,-1,0,1,2,3],"title":"Z-transformed peak-to-trough time","titlePadding":3}},
  "y":{"field":"y","type":"quantitative","scale":{"domain":[-3.08,4],"nice":false,"zero":false},"axis":{"values":[-2,-1,0,1,2,3,4],"title":"Z-transformed half-amplitude duration","titlePadding":0}}},
 "layer":[
  {"data":{"name":"waveB"},"mark":{"type":"area","color":"#2e3192","opacity":1},"encoding":{"y2":{"field":"y2"}}},
  {"data":{"name":"waveR"},"mark":{"type":"area","color":"#cc0000","opacity":1},"encoding":{"y2":{"field":"y2"}}},
  {"data":{"name":"aBlue"},"mark":{"type":"point","shape":"circle","filled":false,"size":20,"strokeWidth":0.8,"color":"#2e3192","opacity":1}},
  {"data":{"name":"aRed"},"mark":{"type":"point","shape":"circle","filled":false,"size":20,"strokeWidth":0.8,"color":"#d42a2a","opacity":1}}
 ]},
{"width":256,"height":264,
 "title":{"text":"B","dx":-63},
 "layer":[
  {"encoding":{
    "x":{"field":"x","type":"quantitative","scale":{"domain":[-0.66,30.15],"nice":false,"zero":false},"axis":{"values":[0,5,10,15,20,25,30],"title":"Firing rate (Hz)","titlePadding":6,"labelFlush":2}},
    "y":{"field":"y","type":"quantitative","scale":{"domain":[-4.03,6.154],"nice":false,"zero":false},"axis":{"values":[-3,-2,-1,0,1,2,3,4,5,6],"title":"Z-transformed spike-LFP phase-locking value","titlePadding":6}}},
   "layer":[
    {"data":{"name":"bBlue"},"mark":{"type":"point","shape":"circle","filled":false,"size":20,"strokeWidth":0.8,"color":"#2e3192","opacity":1}},
    {"data":{"name":"bRed"},"mark":{"type":"point","shape":"circle","filled":false,"size":20,"strokeWidth":0.8,"color":"#d42a2a","opacity":1}},
    {"data":{"name":"bFit"},"mark":{"type":"line","color":"#ee2a24","strokeWidth":2}}
   ]},
  {"encoding":{
    "x":{"field":"u","type":"quantitative","scale":{"domain":[-3.217,1.235],"nice":false,"zero":false},"axis":null},
    "y":{"field":"v","type":"quantitative","scale":{"domain":[-3.391,1.2],"nice":false,"zero":false},"axis":null}},
   "layer":[
    {"data":{"name":"origin"},"mark":{"type":"point","shape":"circle","filled":false,"size":13225,"stroke":"#555","strokeWidth":0.8,"opacity":1}},
    {"data":{"name":"origin"},"mark":{"type":"point","shape":"circle","filled":false,"size":5878,"stroke":"#aaa","strokeWidth":0.7,"strokeDash":[1,2],"opacity":1}},
    {"data":{"name":"origin"},"mark":{"type":"point","shape":"circle","filled":false,"size":1469,"stroke":"#aaa","strokeWidth":0.7,"strokeDash":[1,2],"opacity":1}},
    {"data":{"name":"spokes"},"mark":{"type":"rule","color":"#aaa","strokeWidth":0.7,"strokeDash":[1,2]},"encoding":{"x2":{"field":"u2"},"y2":{"field":"v2"}}},
    {"data":{"name":"polyR"},"mark":{"type":"line","color":"#e03030","strokeWidth":0.9},"encoding":{"order":{"field":"i","type":"quantitative"}}},
    {"data":{"name":"polyB"},"mark":{"type":"line","color":"#2e3192","strokeWidth":0.9},"encoding":{"order":{"field":"i","type":"quantitative"}}},
    {"data":{"name":"vecR"},"mark":{"type":"rule","color":"#e8281e","strokeWidth":1.8},"encoding":{"x2":{"field":"u2"},"y2":{"field":"v2"}}},
    {"data":{"name":"vecB"},"mark":{"type":"rule","color":"#2e3192","strokeWidth":1.5},"encoding":{"x2":{"field":"u2"},"y2":{"field":"v2"}}},
    {"data":{"name":"angles"},"mark":{"type":"text","fontSize":7,"color":"#444","align":"center","baseline":"middle"},"encoding":{"text":{"field":"t"}}},
    {"data":{"name":"radial"},"mark":{"type":"text","fontSize":7,"color":"#444","align":"center","baseline":"middle","angle":55},"encoding":{"text":{"field":"t"}}}
   ]}
 ],
 "resolve":{"scale":{"x":"independent","y":"independent"}}},
{"width":252,"height":264,
 "title":{"text":"C","dx":-47},
 "encoding":{
  "x":{"field":"x","type":"quantitative","scale":{"domain":[-4.02,3.03],"nice":false,"zero":false},"axis":{"values":[-4,-3,-2,-1,0,1,2,3],"title":"Z-transformed peak-to-trough time","titlePadding":7,"labelPadding":7}},
  "y":{"field":"y","type":"quantitative","scale":{"domain":[-0.16,30],"nice":false,"zero":false},"axis":{"values":[5,10,15,20,25,30],"title":"Firing rate (Hz)","titlePadding":1}}},
 "layer":[
  {"data":{"name":"cBlue"},"mark":{"type":"point","shape":"circle","filled":false,"size":20,"strokeWidth":0.8,"color":"#2e3192","opacity":1}},
  {"data":{"name":"cRed"},"mark":{"type":"point","shape":"circle","filled":false,"size":20,"strokeWidth":0.8,"color":"#d42a2a","opacity":1}}
 ]},
{"width":244,"height":264,
 "title":{"text":"D","dx":-63},
 "data":{"name":"d"},
 "mark":{"type":"line","strokeWidth":1.6},
 "encoding":{
  "x":{"field":"f","type":"quantitative","scale":{"domain":[-2.65,100.3],"nice":false,"zero":false},"axis":{"values":[20,40,60,80,100],"title":"Frequency (Hz)","titlePadding":1,"labelFlush":2}},
  "y":{"field":"v","type":"quantitative","scale":{"domain":[-3.04,1.485],"nice":false,"zero":false},"axis":{"values":[-3,-2,-1,0,1],"title":"Regression T-statistic interneuron strength","titlePadding":6}},
  "color":{"field":"s","type":"nominal","scale":{"domain":["All trial periods","Odor period","Movement period","Waiting period","Fluid period"],"range":["#3cb93c","#e8332a","#2b2f8f","#56c0e0","#b94fa7"]},
   "legend":{"title":null,"orient":"none","legendX":93,"legendY":126,"symbolType":"stroke","symbolStrokeWidth":2.5,"symbolSize":225,"labelFontSize":14,"labelColor":"#000","rowPadding":6,"labelOffset":5,"padding":0}}}}
]
}
